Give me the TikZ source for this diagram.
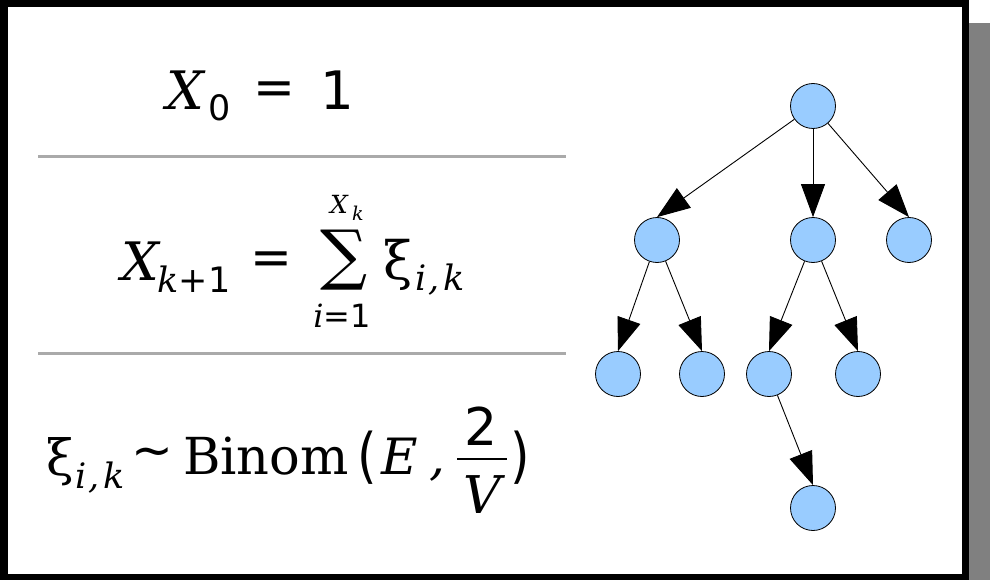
\documentclass[tikz,border=0pt]{standalone}
\usepackage{fontspec}
\setmainfont{DejaVu Serif}
\newfontfamily\dsans{DejaVu Sans}
\usetikzlibrary{arrows.meta}
\definecolor{nodeblue}{HTML}{99CCFF}
\definecolor{rulegray}{HTML}{AAAAAA}
\newcommand\fsz[1]{\fontsize{#1}{#1}\selectfont}
\begin{document}
\begin{tikzpicture}[x=1pt,y=-1pt,
  txt/.style={inner sep=0pt, anchor=base},
  ctr/.style={inner sep=0pt, anchor=center},
  vtx/.style={circle, draw=black, line width=0.8pt, fill=nodeblue, minimum size=45pt, inner sep=0pt},
  treearrow/.style={line width=0.9pt, -{Triangle[length=33pt 0 0,width=24pt 0 0]}},
  rulestyle/.style={draw=rulegray, line width=3pt}]
\useasboundingbox (0,0) rectangle (990,580);
% shadow and frame
\fill[gray] (969,23) rectangle (990,580);
\draw[line width=7pt] (4,3.5) rectangle (965.5,577.5);
% rules
\coordinate (r1a) at (38,157); \coordinate (r1b) at (566,157);
\coordinate (r2a) at (38,353); \coordinate (r2b) at (566,353);
\draw[rulestyle] (r1a) -- (r1b);
\draw[rulestyle] (r2a) -- (r2b);
% formula 1
\node[txt] (f1x) at (185,110) {\fsz{53}\itshape X};
\node[txt] (f1s) at (220,121) {\dsans\fsz{35}0};
\node[ctr] (f1e) at (274,93) {\dsans\fsz{50}=};
\node[txt] (f1o) at (337,110) {\dsans\fsz{53}1};
% formula 2
\node[txt] (f2x) at (140,280) {\fsz{53}\itshape X};
\node[txt] (f2s) at (194,292) {\fsz{35}\itshape k\dsans\upshape +1};
\node[ctr] (f2e) at (271,263) {\dsans\fsz{50}=};
\node[ctr] (f2sum) at (344,260.5) {\fsz{66}∑};
\node[txt] (f2ux) at (339,213) {\fsz{25}\itshape X};
\node[txt] (f2uk) at (358,221) {\fsz{19}\itshape k};
\node[txt] (f2lo) at (342,327) {\fsz{32}\itshape i\dsans\upshape =1};
\node[txt] (f2xi) at (398,279) {\fsz{53}ξ};
\node[txt] (f2ik) at (440,290) {\fsz{35}\itshape i\kern2pt,\kern4pt k};
% formula 3
\node[txt] (f3xi) at (60,475) {\fsz{50}ξ};
\node[txt] (f3ik) at (100,488) {\fsz{35}\itshape i\kern2pt,\kern4pt k};
\node[ctr] (f3t) at (152,458) {\dsans\fsz{50}∼};
\node[txt] (f3b) at (266,474) {\fsz{51}Binom};
\node[ctr] (f3l) at (367,457.5) {\dsans\fsz{50}\scalebox{1}[1.2]{(}};
\node[txt] (f3e) at (400,474) {\fsz{50}\itshape E};
\node[txt] (f3c) at (437,474) {\fsz{50}\itshape ,};
\node[txt] (f3n) at (481,445) {\dsans\fsz{52}2};
\node[txt] (f3d) at (482,513) {\fsz{52}\itshape V};
\coordinate (barl) at (457,459); \coordinate (barr) at (507,459);
\draw[line width=2.5pt] (barl) -- (barr);
\node[ctr] (f3r) at (520,457.5) {\dsans\fsz{50}\scalebox{1}[1.2]{)}};
% tree
\node[vtx] (root) at (813,106) {};
\node[vtx] (a) at (657,240) {};
\node[vtx] (b) at (813,240) {};
\node[vtx] (c) at (909,240) {};
\node[vtx] (a1) at (618,374) {};
\node[vtx] (a2) at (702,374) {};
\node[vtx] (b1) at (769,374) {};
\node[vtx] (b2) at (858,374) {};
\node[vtx] (b1x) at (813,508) {};
\draw[treearrow] (root) -- (a.north);
\draw[treearrow] (root) -- (b.north);
\draw[treearrow] (root) -- (c.north);
\draw[treearrow] (a) -- (a1.north);
\draw[treearrow] (a) -- (a2.north);
\draw[treearrow] (b) -- (b1.north);
\draw[treearrow] (b) -- (b2.north);
\draw[treearrow] (b1) -- (b1x.north);
\end{tikzpicture}
\end{document}
